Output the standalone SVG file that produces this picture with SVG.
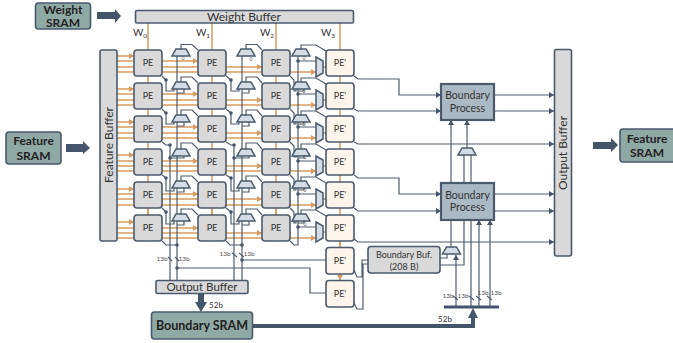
<svg xmlns="http://www.w3.org/2000/svg" width="673" height="343" viewBox="0 0 673 343">
<style>
text{font-family:Lato,"Open Sans","Liberation Sans",sans-serif;fill:#333;text-anchor:middle}
.b{fill:#d9d9d9;stroke:#4a5a6c;stroke-width:1.6}
.pe{fill:#d9d9d9;stroke:#4a5a6c;stroke-width:1.6}
.pp{fill:#fdf4ec;stroke:#4a5a6c;stroke-width:1.6}
.s{fill:#8fa9a4;stroke:#4a5a6c;stroke-width:1.6}
.bp{fill:#a9bac6;stroke:#4a5a6c;stroke-width:2.2}
.mux{fill:#d6dce5;stroke:#4a5a6c;stroke-width:1.5}
.big{fill:#44546a;stroke:none}
.o{fill:none;stroke:#d99a5c;stroke-width:1.5}
.oa{marker-end:url(#ao)}
.w{fill:none;stroke:#4f5d6e;stroke-width:1.2}
.wa{marker-end:url(#ad)}
.pt{font-size:9px}
.sl{font-size:12px;font-weight:700;fill:#222}
.sb{font-size:12.500px;font-weight:700;fill:#222}
.tl{font-size:6.500px;fill:#555}
.z{font-size:5px;fill:#555}
</style>
<defs>
<marker id="ao" markerUnits="userSpaceOnUse" markerWidth="6" markerHeight="6" refX="5" refY="3" orient="auto"><path d="M0 0L5 3L0 6Z" fill="#d99a5c"/></marker>
<marker id="ad" markerUnits="userSpaceOnUse" markerWidth="6" markerHeight="6" refX="5" refY="3" orient="auto"><path d="M0 0L5 3L0 6Z" fill="#44546a"/></marker>
<polygon id="m" points="0,7 18,7 14,0 4,0"/>
</defs>
<g id="connectors">
<g id="weight-lines">
<path class="o" d="M148 23V215M212 23V215M276 23V215M340 23V280"/>
<path class="o oa" d="M148 208V215M212 208V215M276 208V215M340 241V247M340 274V280"/>
</g>
<g id="feature-lines">
<path class="o oa" d="M117 56H134"/><path class="o oa" d="M117 61H198"/><path class="o oa" d="M117 67H262"/><path class="o oa" d="M117 72H316"/>
<path class="o oa" d="M117 89H134"/><path class="o oa" d="M117 94H198"/><path class="o oa" d="M117 100H262"/><path class="o oa" d="M117 105H316"/>
<path class="o oa" d="M117 122H134"/><path class="o oa" d="M117 127H198"/><path class="o oa" d="M117 133H262"/><path class="o oa" d="M117 138H316"/>
<path class="o oa" d="M117 155H134"/><path class="o oa" d="M117 161H198"/><path class="o oa" d="M117 166H262"/><path class="o oa" d="M117 171H316"/>
<path class="o oa" d="M117 189H134"/><path class="o oa" d="M117 194H198"/><path class="o oa" d="M117 199H262"/><path class="o oa" d="M117 205H316"/>
<path class="o oa" d="M117 222H134"/><path class="o oa" d="M117 228H198"/><path class="o oa" d="M117 233H262"/><path class="o oa" d="M117 238H316"/>
</g>
<g id="col1-wires">
<path class="w" d="M177 56V280M170 145V280M181 49V44.500H192L198 50"/>
<path class="w" d="M162 76L166 80V91H174V89M184 89V93H177M181 82V77H192L198 83"/>
<path class="w" d="M162 109L166 113V124H174V122M184 122V126H177M181 115V110H192L198 116"/>
<path class="w" d="M162 142L166 145H170M170 158H184V155M181 149V143H192L198 149"/>
<path class="w" d="M162 175L166 178V191H174V188M184 188V192H177M181 181V176H192L198 182"/>
<path class="w" d="M162 208L166 212V224H174V221M184 221V225H177M181 214V209H192L198 215"/>
<path class="w" d="M162 241L166 245H177"/>
</g>
<g id="col2-wires">
<path class="w" d="M242 56V280M234 145V280M246 49V44.500H257L262 50"/>
<path class="w" d="M226 76L231 80V91H239V89M249 89V93H242M246 82V77H257L262 83"/>
<path class="w" d="M226 109L231 113V124H239V122M249 122V126H242M246 115V110H257L262 116"/>
<path class="w" d="M226 142L231 145H234M234 158H249V155M246 149V143H257L262 149"/>
<path class="w" d="M226 175L231 178V191H239V188M249 188V192H242M246 181V176H257L262 182"/>
<path class="w" d="M226 208L231 212V224H239V221M249 221V225H242M246 214V209H257L262 215"/>
<path class="w" d="M226 241L230 245H242"/>
</g>
<g id="col3-wires">
<path class="w" d="M301 49V45H316L326 51M298 56V82M298 61H316"/>
<path class="w" d="M290 76L294 80V91H296V88M304 88V91H298M301 82V78H316L326 84M298 88V115M298 94H316"/>
<path class="w" d="M290 109L294 113V124H296V121M304 121V124H298M301 115V111H316L326 117M298 121V149M298 127H316"/>
<path class="w" d="M290 142L294 146V157H296V155M304 155V158H298M301 149V144H316L326 150M298 155V181M298 161H316"/>
<path class="w" d="M290 175L294 179V190H296V187M304 187V190H298M301 181V177H316L326 183M298 187V214M298 194H316"/>
<path class="w" d="M290 208L294 212V223H296V220M304 220V223H298M301 214V210H316L326 216M298 220V245H294L290 241M298 227H316"/>
<path class="w" d="M323 67H326M323 100H326M323 133H326M323 166H326M323 199H326M323 232H326"/>
</g>
<g id="bottom-wires">
<path class="w" d="M177 268H310V293H326M242 260H326"/>
<path class="w" d="M168 257L172 261M175 257L179 261M232 253L237 257M239 253L244 257"/>
<path class="w" d="M354 270L357 277H362V260H368M354 303L357 309H363V264H368"/>
</g>
<g id="boundary-wires">
<path class="w wa" d="M354 76L358 79H399V95H441"/>
<path class="w wa" d="M354 109L358 111H441"/>
<path class="w wa" d="M354 142L358 144H554"/>
<path class="w wa" d="M354 175L358 178H399V194H441"/>
<path class="w wa" d="M354 208L358 211H441"/>
<path class="w wa" d="M354 239L358 242H554"/>
<path class="w wa" d="M494 95H554"/><path class="w wa" d="M494 111H554"/><path class="w wa" d="M494 194H554"/><path class="w wa" d="M494 211H554"/>
<path class="w wa" d="M451 183V120"/>
<path class="w wa" d="M467 148V120"/>
<path class="w" d="M464 155V265H440M471 155V307M451 220V247M440 258H447V254"/>
<path class="w wa" d="M456 307V255"/>
<path class="w wa" d="M479 307V220"/>
<path class="w wa" d="M490 307V220"/>
<path class="w" d="M453 296L458 300M469 296L474 300M476 296L481 300M487 296L492 300"/>
</g>
<g id="sram-links">
<path d="M444 307H499" fill="none" stroke="#44546a" stroke-width="3"/>
<path d="M252 326H473V316" fill="none" stroke="#44546a" stroke-width="4"/>
<polygon class="big" points="473,308 478,318 468,318"/>
<path d="M201 294V304" fill="none" stroke="#44546a" stroke-width="6"/>
<polygon class="big" points="201,312 195,302 207,302"/>
<polygon class="big" points="97,12 115,12 115,9 121,16 115,23 115,19 97,19"/>
<polygon class="big" points="66,144 83,144 83,141 90,148 83,154 83,152 66,152"/>
<polygon class="big" points="593,142 611,142 611,138 618,145 611,152 611,149 593,149"/>
</g>
</g>
<g id="weight-sram"><rect class="s" x="35.500" y="3" width="55" height="26" rx="3"/><text class="sl" x="63" y="13.500">Weight</text><text class="sl" x="63" y="27">SRAM</text></g>
<g id="feature-sram-in"><rect class="s" x="6" y="132" width="55" height="32" rx="3"/><text class="sl" x="33.500" y="145">Feature</text><text class="sl" x="33.500" y="160">SRAM</text></g>
<g id="feature-sram-out"><rect class="s" x="620" y="129" width="60" height="33" rx="3"/><text class="sl" x="647" y="143">Feature</text><text class="sl" x="647" y="157">SRAM</text></g>
<g id="weight-buffer"><rect class="b" x="135.500" y="10.500" width="218" height="12.500" rx="1.500"/><text x="244" y="21" font-size="12">Weight Buffer</text></g>
<g id="w-labels"><text x="140" y="36" font-size="10">W<tspan font-size="6.500" dy="1.500">0</tspan></text><text x="203" y="36" font-size="10">W<tspan font-size="6.500" dy="1.500">1</tspan></text><text x="267" y="36" font-size="10">W<tspan font-size="6.500" dy="1.500">2</tspan></text><text x="328" y="36" font-size="10">W<tspan font-size="6.500" dy="1.500">3</tspan></text></g>
<g id="feature-buffer"><rect class="b" x="100" y="50" width="17" height="191" rx="2"/><text transform="translate(112.500 145) rotate(-90)" font-size="12">Feature Buffer</text></g>
<g id="output-buffer-right"><rect class="b" x="554.500" y="49.500" width="17" height="206.500" rx="2"/><text transform="translate(566.500 153) rotate(-90)" font-size="12">Output Buffer</text></g>
<g id="pe-array">
<g id="pe-0-0"><rect class="pe" x="134" y="50" width="28" height="26" rx="3"/><text class="pt" x="148" y="66">PE</text></g>
<g id="pe-0-1"><rect class="pe" x="198" y="50" width="28" height="26" rx="3"/><text class="pt" x="212" y="66">PE</text></g>
<g id="pe-0-2"><rect class="pe" x="262" y="50" width="28" height="26" rx="3"/><text class="pt" x="276" y="66">PE</text></g>
<g id="pe-0-3"><rect class="pp" x="326" y="50" width="28" height="26" rx="3"/><text class="pt" x="340" y="66">PE'</text></g>
<g id="pe-1-0"><rect class="pe" x="134" y="83" width="28" height="26" rx="3"/><text class="pt" x="148" y="99">PE</text></g>
<g id="pe-1-1"><rect class="pe" x="198" y="83" width="28" height="26" rx="3"/><text class="pt" x="212" y="99">PE</text></g>
<g id="pe-1-2"><rect class="pe" x="262" y="83" width="28" height="26" rx="3"/><text class="pt" x="276" y="99">PE</text></g>
<g id="pe-1-3"><rect class="pp" x="326" y="83" width="28" height="26" rx="3"/><text class="pt" x="340" y="99">PE'</text></g>
<g id="pe-2-0"><rect class="pe" x="134" y="116" width="28" height="26" rx="3"/><text class="pt" x="148" y="132">PE</text></g>
<g id="pe-2-1"><rect class="pe" x="198" y="116" width="28" height="26" rx="3"/><text class="pt" x="212" y="132">PE</text></g>
<g id="pe-2-2"><rect class="pe" x="262" y="116" width="28" height="26" rx="3"/><text class="pt" x="276" y="132">PE</text></g>
<g id="pe-2-3"><rect class="pp" x="326" y="116" width="28" height="26" rx="3"/><text class="pt" x="340" y="132">PE'</text></g>
<g id="pe-3-0"><rect class="pe" x="134" y="149" width="28" height="26" rx="3"/><text class="pt" x="148" y="165">PE</text></g>
<g id="pe-3-1"><rect class="pe" x="198" y="149" width="28" height="26" rx="3"/><text class="pt" x="212" y="165">PE</text></g>
<g id="pe-3-2"><rect class="pe" x="262" y="149" width="28" height="26" rx="3"/><text class="pt" x="276" y="165">PE</text></g>
<g id="pe-3-3"><rect class="pp" x="326" y="149" width="28" height="26" rx="3"/><text class="pt" x="340" y="165">PE'</text></g>
<g id="pe-4-0"><rect class="pe" x="134" y="182" width="28" height="26" rx="3"/><text class="pt" x="148" y="198">PE</text></g>
<g id="pe-4-1"><rect class="pe" x="198" y="182" width="28" height="26" rx="3"/><text class="pt" x="212" y="198">PE</text></g>
<g id="pe-4-2"><rect class="pe" x="262" y="182" width="28" height="26" rx="3"/><text class="pt" x="276" y="198">PE</text></g>
<g id="pe-4-3"><rect class="pp" x="326" y="182" width="28" height="26" rx="3"/><text class="pt" x="340" y="198">PE'</text></g>
<g id="pe-5-0"><rect class="pe" x="134" y="215" width="28" height="26" rx="3"/><text class="pt" x="148" y="231">PE</text></g>
<g id="pe-5-1"><rect class="pe" x="198" y="215" width="28" height="26" rx="3"/><text class="pt" x="212" y="231">PE</text></g>
<g id="pe-5-2"><rect class="pe" x="262" y="215" width="28" height="26" rx="3"/><text class="pt" x="276" y="231">PE</text></g>
<g id="pe-5-3"><rect class="pp" x="326" y="215" width="28" height="26" rx="3"/><text class="pt" x="340" y="231">PE'</text></g>
<g id="pe-6"><rect class="pp" x="326" y="247.500" width="28" height="26.500" rx="3"/><text class="pt" x="340" y="264">PE'</text></g>
<g id="pe-7"><rect class="pp" x="326" y="280.500" width="28" height="26.500" rx="3"/><text class="pt" x="340" y="297">PE'</text></g>
</g>
<g id="muxes" class="mux">
<use href="#m" x="172" y="49"/><use href="#m" x="237" y="49"/><use href="#m" x="292" y="49"/>
<use href="#m" x="172" y="82"/><use href="#m" x="237" y="82"/><use href="#m" x="292" y="82"/>
<use href="#m" x="172" y="115"/><use href="#m" x="237" y="115"/><use href="#m" x="292" y="115"/>
<use href="#m" x="172" y="149"/><use href="#m" x="237" y="149"/><use href="#m" x="292" y="149"/>
<use href="#m" x="172" y="181"/><use href="#m" x="237" y="181"/><use href="#m" x="292" y="181"/>
<use href="#m" x="172" y="214"/><use href="#m" x="237" y="214"/><use href="#m" x="292" y="214"/>
<use href="#m" x="458" y="148"/><use href="#m" x="442.500" y="247"/>
<polygon points="316,57 323,61 323,73 316,77"/><polygon points="316,90 323,94 323,106 316,110"/><polygon points="316,123 323,127 323,139 316,143"/><polygon points="316,156 323,160 323,172 316,176"/><polygon points="316,189 323,193 323,205 316,209"/><polygon points="316,222 323,226 323,238 316,242"/>
</g>
<g id="dots" fill="#44546a">
<circle cx="166" cy="80" r="1.800"/><circle cx="166" cy="113" r="1.800"/><circle cx="170" cy="145" r="1.800"/><circle cx="170" cy="158" r="1.800"/><circle cx="166" cy="178" r="1.800"/><circle cx="166" cy="212" r="1.800"/><circle cx="177" cy="245" r="1.800"/><circle cx="177" cy="268" r="1.800"/>
<circle cx="231" cy="80" r="1.800"/><circle cx="231" cy="113" r="1.800"/><circle cx="234" cy="145" r="1.800"/><circle cx="234" cy="158" r="1.800"/><circle cx="231" cy="178" r="1.800"/><circle cx="231" cy="212" r="1.800"/><circle cx="242" cy="245" r="1.800"/><circle cx="242" cy="260" r="1.800"/>
<circle cx="298" cy="61" r="1.800"/><circle cx="298" cy="94" r="1.800"/><circle cx="298" cy="127" r="1.800"/><circle cx="298" cy="161" r="1.800"/><circle cx="298" cy="194" r="1.800"/><circle cx="298" cy="227" r="1.800"/>
</g>
<g id="mux-labels"><text class="z" x="183" y="60">0</text><text class="z" x="251" y="61">0</text><text class="z" x="304" y="60">0</text><text class="z" x="304" y="93">0</text><text class="z" x="304" y="126">0</text><text class="z" x="305" y="159">0</text><text class="z" x="305" y="192">0</text><text class="z" x="305" y="226">0</text></g>
<g id="boundary-process-1"><rect class="bp" x="441" y="84" width="53" height="36"/><text x="467.500" y="99" font-size="10.500">Boundary</text><text x="467.500" y="112" font-size="10.500">Process</text></g>
<g id="boundary-process-2"><rect class="bp" x="441" y="183" width="53" height="37"/><text x="467.500" y="199" font-size="10.500">Boundary</text><text x="467.500" y="211" font-size="10.500">Process</text></g>
<g id="boundary-buf"><rect class="b" x="368" y="246.500" width="72" height="26.500" rx="3"/><text x="404" y="258" font-size="9">Boundary Buf.</text><text x="404" y="270" font-size="9">(208 B)</text></g>
<g id="output-buffer-bottom"><rect class="b" x="156" y="280.500" width="92" height="13" rx="1.500"/><text x="202" y="291" font-size="11.500">Output Buffer</text></g>
<g id="boundary-sram"><rect class="s" x="151.500" y="312" width="101" height="27" rx="3"/><text class="sb" x="202" y="330">Boundary SRAM</text></g>
<g id="bit-labels">
<text class="tl" x="162" y="261">13b</text><text class="tl" x="184" y="261">13b</text><text class="tl" x="225" y="256">13b</text><text class="tl" x="249" y="256">13b</text>
<text class="tl" x="448" y="298">13b</text><text class="tl" x="463" y="298">13b</text><text class="tl" x="483" y="295">13b</text><text class="tl" x="496" y="295">13b</text>
<text x="216" y="308" font-size="8" fill="#555">52b</text><text x="445" y="322" font-size="8" fill="#555">52b</text>
</g>
</svg>
